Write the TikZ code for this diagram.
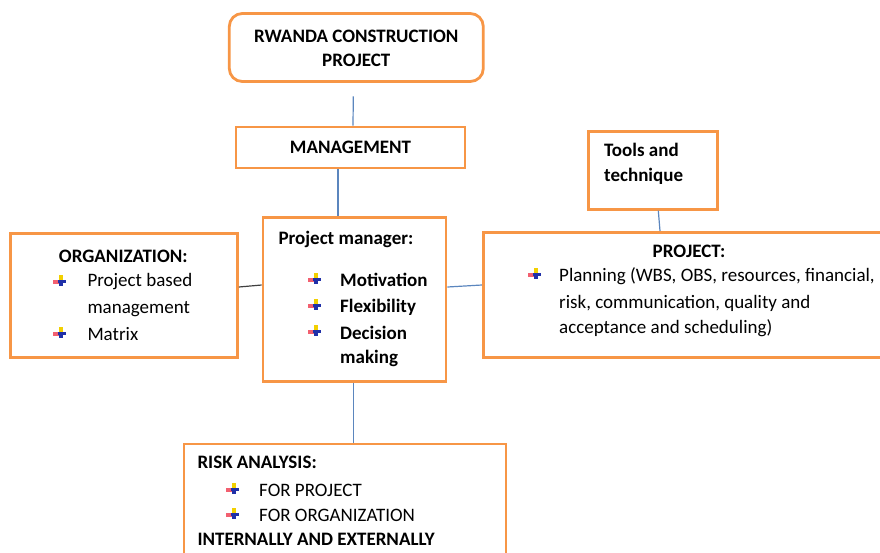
\documentclass[tikz,border=0pt]{standalone}
\usepackage{fontspec}
\setmainfont{Carlito}
\definecolor{boxorange}{HTML}{F79646}
\definecolor{linkblue}{HTML}{5B86BE}
\definecolor{linkgray}{HTML}{404040}
\definecolor{bulyellow}{HTML}{F2D000}
\definecolor{bulred}{HTML}{F26070}
\definecolor{bulblue}{HTML}{2030A8}
\begin{document}
\begin{tikzpicture}[x=1pt,y=-1pt,
  obox/.style={draw=boxorange, line width=2.8pt, fill=white, inner sep=0pt},
  link/.style={draw=linkblue, line width=1.2pt},
  glink/.style={draw=linkgray, line width=1.2pt},
  txt/.style={inner sep=0pt, anchor=base west, font=\fontsize{19}{23}\selectfont},
  btxt/.style={txt, font=\fontsize{19}{23}\selectfont\bfseries},
  ctxt/.style={btxt, anchor=base},
  bul/.pic={
    \fill[bulyellow] (-2,-6) rectangle (2,-1);
    \fill[bulred] (-8,-1) rectangle (-2,3);
    \fill[bulblue] (-3,-1) rectangle (5,2);
    \fill[bulblue] (-1.6,2) rectangle (1.6,5);
  }]
\useasboundingbox (0,0) rectangle (880,552);
\clip (0,0) rectangle (880,552);

% boxes
\node[obox, rounded corners=13pt, minimum width=254pt, minimum height=68pt] (title) at (356.3,47.5) {};
\node[obox, minimum width=229pt, minimum height=41pt] (mgmt) at (350.5,147.5) {};
\node[obox, minimum width=183pt, minimum height=164pt] (pm) at (354.5,299.5) {};
\node[obox, minimum width=227pt, minimum height=124pt] (org) at (124,295.3) {};
\node[obox, minimum width=129pt, minimum height=78pt] (tools) at (653,170.3) {};
\node[obox, minimum width=420pt, minimum height=125pt] (proj) at (693.3,294.8) {};
\node[obox, minimum width=322pt, minimum height=140pt] (risk) at (345,514) {};

% connectors
\draw[link] ([xshift=-3pt,yshift=-13.5pt]title.south) -- ([xshift=2.5pt]mgmt.north);
\draw[link] ([xshift=-12.5pt]mgmt.south) -- ([xshift=-16.5pt]pm.north);
\draw[glink] ([yshift=8.3pt]org.east) -- ([yshift=14.5pt]pm.west);
\draw[link] ([yshift=12.5pt]pm.east) -- ([yshift=9.8pt]proj.west);
\draw[link] ([xshift=5.3pt]tools.south) -- ([xshift=-33.3pt]proj.north);
\draw[link] ([xshift=-1.2pt]pm.south) -- ([xshift=8.3pt]risk.north);

% title text
\node[ctxt] (t1) at (356.3,42.7) {RWANDA CONSTRUCTION};
\node[ctxt] (t2) at (356.3,66.7) {PROJECT};
\node[ctxt] (m1) at (350.5,153) {MANAGEMENT};

% organization
\node[ctxt] (o0) at (123.3,262.7) {ORGANIZATION:};
\pic at (61,280.5) {bul};
\node[txt] (o1) at (87.3,286.7) {Project based};
\node[txt] (o2) at (87.3,313.5) {management};
\pic at (61,332.5) {bul};
\node[txt] (o3) at (87.3,340) {Matrix};

% project manager
\node[btxt] (p0) at (278.3,244.3) {Project manager:};
\pic at (316,278.5) {bul};
\node[btxt] (p1) at (340,286.7) {Motivation};
\pic at (316,304.5) {bul};
\node[btxt] (p2) at (340,312.3) {Flexibility};
\pic at (316,330.5) {bul};
\node[btxt] (p3) at (340,339.3) {Decision};
\node[btxt] (p4) at (340,363.3) {making};

% tools
\node[btxt] (k1) at (604,156) {Tools and};
\node[btxt] (k2) at (604,181.7) {technique};

% project
\node[ctxt] (j0) at (689,257.7) {PROJECT:};
\pic at (536,274) {bul};
\node[txt] (j1) at (559,281.7) {Planning (WBS, OBS, resources, financial,};
\node[txt] (j2) at (559,308.3) {risk, communication, quality and};
\node[txt] (j3) at (559,333.3) {acceptance and scheduling)};

% risk
\node[btxt] (r0) at (197.3,468.3) {RISK ANALYSIS:};
\pic at (234,488.5) {bul};
\node[txt] (r1) at (259,496) {FOR PROJECT};
\pic at (234,513.5) {bul};
\node[txt] (r2) at (259,521.7) {FOR ORGANIZATION};
\node[btxt] (r3) at (197.3,545) {INTERNALLY AND EXTERNALLY};
\end{tikzpicture}
\end{document}
